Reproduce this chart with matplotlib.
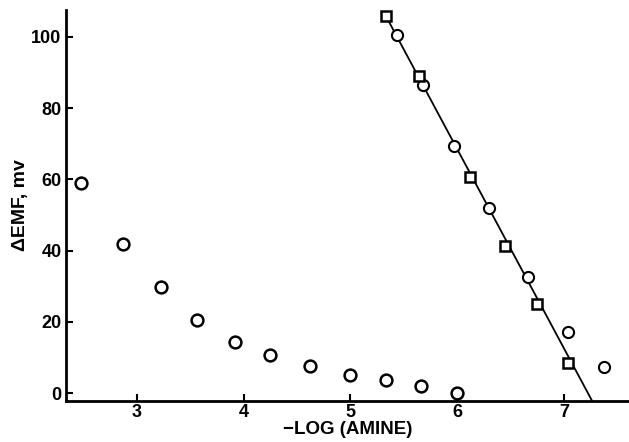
import matplotlib.pyplot as plt

# left series: open circles (no line)
x_low = [2.48, 2.875, 3.225, 3.56, 3.92, 4.25, 4.62, 5.0, 5.33, 5.66, 6.0]
y_low = [58.9, 41.9, 29.7, 20.5, 14.3, 10.7, 7.7, 5.1, 3.7, 1.9, 0.0]

# right series: squares and circles on the straight line
x_sq = [5.33, 5.64, 6.12, 6.45, 6.75, 7.04]
y_sq = [105.8, 89.0, 60.7, 41.3, 25.0, 8.4]
x_ci = [5.44, 5.68, 5.97, 6.30, 6.66, 7.04, 7.38]
y_ci = [100.6, 86.4, 69.4, 51.9, 32.5, 17.1, 7.2]

# fitted line end points
x_fit = [5.33, 7.265]
y_fit = [106.0, -2.2]

xticks = [3, 4, 5, 6, 7]
yticks = [0, 20, 40, 60, 80, 100]

plt.rcParams['font.family'] = ['Liberation Sans', 'DejaVu Sans']

fig = plt.figure(figsize=(6.29, 4.42), dpi=100)
ax = fig.add_axes([0.1045, 0.0928, 0.8955, 0.8845])

ax.plot(x_fit, y_fit, color='black', lw=1.3, zorder=2)
ax.plot(x_low, y_low, 'o', ms=8.5, mfc='white', mec='black', mew=1.8, ls='none', zorder=3)
ax.plot(x_ci, y_ci, 'o', ms=8, mfc='white', mec='black', mew=1.5, ls='none', zorder=3)
ax.plot(x_sq, y_sq, 's', ms=7.5, mfc='white', mec='black', mew=1.8, ls='none', zorder=4)

ax.set_xlim(2.335, 7.61)
ax.set_ylim(-2.2, 107.5)
ax.set_xticks(xticks)
ax.set_yticks(yticks)
ax.tick_params(direction='in', length=5, width=1.5, labelsize=13)
ax.tick_params(axis='x', pad=2)
ax.tick_params(axis='y', pad=3)
for lab in ax.get_xticklabels() + ax.get_yticklabels():
    lab.set_fontweight('bold')

for s in ['top', 'right']:
    ax.spines[s].set_visible(False)
for s in ['left', 'bottom']:
    ax.spines[s].set_linewidth(2)

ax.set_xlabel('\u2212LOG (AMINE)', fontsize=13.5, fontweight='bold', labelpad=0)
ax.set_ylabel('\u0394EMF, mv', fontsize=14, fontweight='bold', labelpad=2)

plt.savefig('out.png', dpi=100)
